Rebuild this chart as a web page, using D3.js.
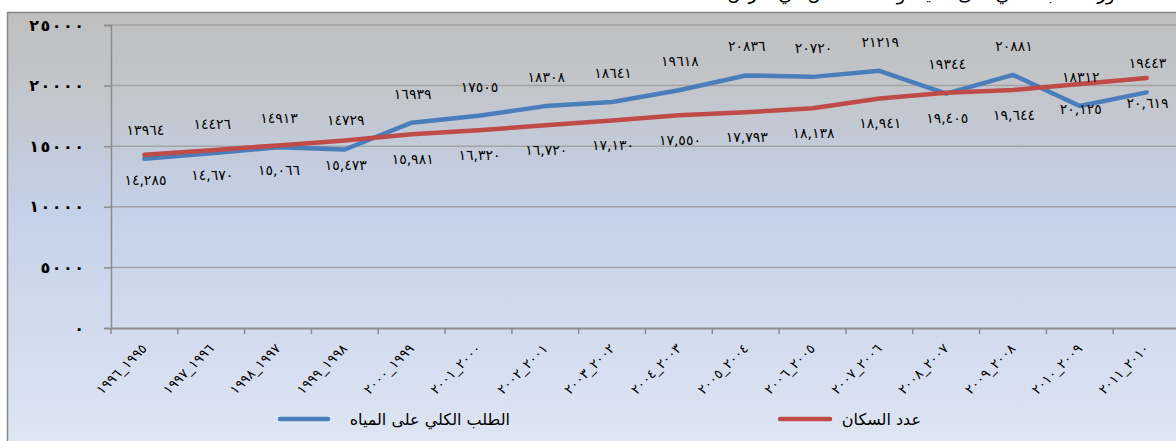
<!DOCTYPE html>
<html>
<head>
<meta charset="utf-8">
<script src="https://cdn.jsdelivr.net/npm/d3@7"></script>
<style>
  html, body { margin: 0; padding: 0; background: #fff; overflow: hidden; }
  svg { display: block; font-family: "DejaVu Sans", sans-serif; }
</style>
</head>
<body>
<div id="chart"></div>
<script>
// categories (as shown, Arabic-Indic digits)
const periods = [
  "١٩٩٦_١٩٩٥", "١٩٩٧_١٩٩٦", "١٩٩٨_١٩٩٧", "١٩٩٩_١٩٩٨",
  "٢٠٠٠_١٩٩٩", "٢٠٠١_٢٠٠٠", "٢٠٠٢_٢٠٠١", "٢٠٠٣_٢٠٠٢",
  "٢٠٠٤_٢٠٠٣", "٢٠٠٥_٢٠٠٤", "٢٠٠٦_٢٠٠٥", "٢٠٠٧_٢٠٠٦",
  "٢٠٠٨_٢٠٠٧", "٢٠٠٩_٢٠٠٨", "٢٠١٠_٢٠٠٩", "٢٠١١_٢٠١٠"
];
// total water demand (blue)
const demand = [13964, 14426, 14913, 14729, 16939, 17505, 18308, 18641,
                19618, 20836, 20720, 21219, 19344, 20881, 18312, 19443];
// population (red)
const population = [14285, 14670, 15066, 15473, 15981, 16320, 16720, 17130,
                    17550, 17793, 18138, 18941, 19405, 19644, 20125, 20619];
const yTicks = [0, 5000, 10000, 15000, 20000, 25000];
const demandName = "الطلب الكلي على المياه";
const popName = "عدد السكان";
const title = "تطور الطلب الكلي على المياه وعدد السكان في الأردن";

const W = 1176, H = 441;
const arDigits = "٠١٢٣٤٥٦٧٨٩";
const toAr = s => String(s).replace(/[0-9]/g, d => arDigits[d]);

const svg = d3.select("#chart").append("svg")
  .attr("width", W).attr("height", H);

const defs = svg.append("defs");
const grad = defs.append("linearGradient").attr("id", "bg")
  .attr("x1", 0).attr("y1", 0).attr("x2", 0).attr("y2", 1);
grad.append("stop").attr("offset", "0%").attr("stop-color", "#bfbfbf");
grad.append("stop").attr("offset", "15%").attr("stop-color", "#c2c4c8");
grad.append("stop").attr("offset", "45%").attr("stop-color", "#c4d1e8");
grad.append("stop").attr("offset", "100%").attr("stop-color", "#dfe6f3");

// cut-off title (only its lower edge is visible)
svg.append("text")
  .attr("x", 1135).attr("y", 0)
  .attr("text-anchor", "end")
  .attr("font-size", 18)
  .text(title);

// chart area
svg.append("rect")
  .attr("x", 7.5).attr("y", 12.5)
  .attr("width", W + 20).attr("height", H)
  .attr("fill", "url(#bg)")
  .attr("stroke", "#868686").attr("stroke-width", 1.5);

const x = d3.scaleBand().domain(periods).range([111, 1180]);
const y = d3.scaleLinear().domain([0, 25000]).range([328, 25]);

// grid lines
svg.append("g").selectAll("line")
  .data(yTicks.filter(d => d > 0))
  .join("line")
  .attr("x1", 111).attr("x2", W)
  .attr("y1", d => y(d)).attr("y2", d => y(d))
  .attr("stroke", "#a3a3a3").attr("stroke-width", 1.5);

// y axis
const yAxis = svg.append("g")
  .attr("transform", "translate(111,0)")
  .call(d3.axisLeft(y).tickValues(yTicks).tickSize(7).tickPadding(20)
    .tickFormat(d => toAr(d)));
yAxis.select(".domain").attr("stroke", "#8c8c8c").attr("stroke-width", 1.5);
yAxis.selectAll(".tick line").attr("stroke", "#8c8c8c").attr("stroke-width", 1.5);
// spread the digits a little with tspans
yAxis.selectAll(".tick text")
  .attr("font-size", 16).attr("font-weight", "bold")
  .attr("fill", "#000")
  .attr("font-family", "DejaVu Sans")
  .each(function(d) {
    const t = d3.select(this);
    const chars = Array.from(toAr(d));
    t.text(null);
    chars.forEach((c, i) => t.append("tspan").attr("dx", i ? 1.5 : 0).text(c));
  });

// x axis
const xAxis = svg.append("g")
  .attr("transform", "translate(0,328)")
  .call(d3.axisBottom(x).tickSize(0).tickFormat(""));
xAxis.select(".domain").attr("stroke", "#8c8c8c").attr("stroke-width", 2);
xAxis.selectAll(".tick").remove();

// tick marks between categories
svg.append("g").selectAll("line")
  .data(periods)
  .join("line")
  .attr("x1", d => x(d)).attr("x2", d => x(d))
  .attr("y1", 328).attr("y2", 334)
  .attr("stroke", "#8c8c8c").attr("stroke-width", 1.5);

// x labels, rotated
svg.append("g").selectAll("text")
  .data(periods)
  .join("text")
  .attr("transform", d => `translate(${x(d) + x.bandwidth() / 2},346) rotate(-45)`)
  .attr("text-anchor", "end")
  .attr("dy", "0.35em")
  .attr("font-size", 13.5)
  .attr("letter-spacing", "2px")
  .style("direction", "ltr")
  .style("unicode-bidi", "bidi-override")
  .text(d => d);

const cx = i => x(periods[i]) + x.bandwidth() / 2;
const line = d3.line().x((d, i) => cx(i)).y(d => y(d));

svg.append("path").datum(demand)
  .attr("d", line)
  .attr("fill", "none").attr("stroke", "#4a7ebb")
  .attr("stroke-width", 4.5).attr("stroke-linejoin", "round").attr("stroke-linecap", "round");

svg.append("path").datum(population)
  .attr("d", line)
  .attr("fill", "none").attr("stroke", "#be4b48")
  .attr("stroke-width", 4.5).attr("stroke-linejoin", "round").attr("stroke-linecap", "round");

// data labels
svg.append("g").selectAll("text")
  .data(demand)
  .join("text")
  .attr("x", (d, i) => cx(i) + 1)
  .attr("y", d => y(d) - 29)
  .attr("dy", "0.35em")
  .attr("text-anchor", "middle")
  .attr("font-size", 14)
  .attr("letter-spacing", "1.8px")
  .text(d => toAr(d));

const fmt = d3.format(",");
svg.append("g").selectAll("text")
  .data(population)
  .join("text")
  .attr("x", (d, i) => cx(i) + 1)
  .attr("y", d => y(d) + 25)
  .attr("dy", "0.35em")
  .attr("text-anchor", "middle")
  .attr("font-size", 14)
  .attr("letter-spacing", "1.8px")
  .text(d => toAr(fmt(d)));

// legend
const legend = [
  { name: demandName, color: "#4a7ebb", x0: 280, x1: 328, tx: 510 },
  { name: popName, color: "#be4b48", x0: 780, x1: 830, tx: 921 }
];
const lg = svg.append("g").selectAll("g").data(legend).join("g");
lg.append("line")
  .attr("x1", d => d.x0).attr("x2", d => d.x1)
  .attr("y1", 419).attr("y2", 419)
  .attr("stroke", d => d.color).attr("stroke-width", 4.5)
  .attr("stroke-linecap", "round");
lg.append("text")
  .attr("x", d => d.tx).attr("y", 419)
  .attr("dy", "0.35em")
  .attr("font-size", 16)
  .attr("text-anchor", "end")
  .text(d => d.name);
</script>
</body>
</html>
